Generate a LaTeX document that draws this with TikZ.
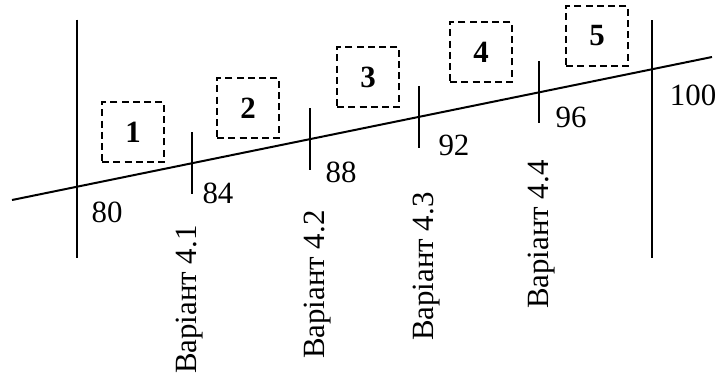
\documentclass[tikz,border=0pt]{standalone}
\usepackage{fontspec}
\setmainfont{Liberation Serif}
\usetikzlibrary{positioning,calc}

\begin{document}
\begin{tikzpicture}[
    x=0.4bp, y=0.4bp,
    axis line/.style={draw, line width=0.8bp},
    tick line/.style={draw, line width=0.8bp},
    num/.style={inner sep=0pt, font=\fontsize{12.4}{15}\selectfont},
    zone/.style={
      draw, dashed, line width=0.5bp,
      dash pattern=on 2.8bp off 1.7bp,
      minimum width=24.8bp, minimum height=24bp,
      inner sep=0pt,
      font=\fontsize{12.4}{15}\selectfont\bfseries
    },
    variant/.style={rotate=90, anchor=east, inner sep=0pt,
      font=\fontsize{12.4}{15}\selectfont}
  ]
  \useasboundingbox (0,0) rectangle (717,378);

  % main line and the points on it
  \coordinate (L) at (12,178);
  \coordinate (R) at (712,321);
  \draw[axis line] (L) -- (R)
    coordinate[pos=0.0929] (p80)
    coordinate[pos=0.2571] (p84)
    coordinate[pos=0.4257] (p88)
    coordinate[pos=0.5814] (p92)
    coordinate[pos=0.7529] (p96)
    coordinate[pos=0.9143] (p100);

  % borders
  \draw[tick line] ($(p80)+(0,167)$) -- ($(p80)+(0,-71)$);
  \draw[tick line] ($(p100)+(0,49)$) -- ($(p100)+(0,-189)$);

  % ticks
  \draw[tick line] ($(p84)+(0,31)$) -- ($(p84)+(0,-31)$);
  \draw[tick line] ($(p88)+(0,31)$) -- ($(p88)+(0,-31)$);
  \draw[tick line] ($(p92)+(0,31)$) -- ($(p92)+(0,-31)$);
  \draw[tick line] ($(p96)+(0,31)$) -- ($(p96)+(0,-31)$);

  % values
  \node[num] (n80) at ($(p80)+(30,-26)$) {80};
  \node[num] (n84) at ($(p84)+(26,-30)$) {84};
  \node[num] (n88) at ($(p88)+(31,-33)$) {88};
  \node[num] (n92) at ($(p92)+(35,-29)$) {92};
  \node[num] (n96) at ($(p96)+(32,-25)$) {96};
  \node[num] (n100) at ($(p100)+(41,-26)$) {100};

  % zones
  \node[zone] (z1) at (133,246) {1};
  \node[zone] (z2) at (248,270) {2};
  \node[zone] (z3) at (368,301) {3};
  \node[zone] (z4) at (481,326) {4};
  \node[zone] (z5) at (597,342) {5};

  % variants
  \node[variant] (v1) at (190,153) {Варіант 4.1};
  \node[variant] (v2) at (318,168) {Варіант 4.2};
  \node[variant] (v3) at (427,186) {Варіант 4.3};
  \node[variant] (v4) at (542,218) {Варіант 4.4};

\end{tikzpicture}
\end{document}
